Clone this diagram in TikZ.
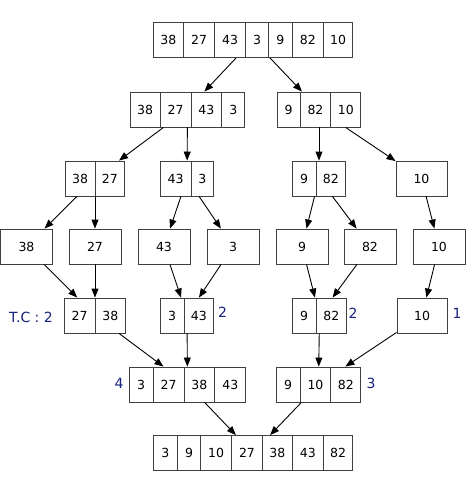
\documentclass[tikz,border=0pt]{standalone}
\usepackage{fontspec}
\setmainfont{DejaVu Sans}
\usetikzlibrary{shapes.multipart,arrows.meta}
\newcommand\cel[2]{\makebox[#1pt]{\rule[-13pt]{0pt}{35pt}#2}}
\definecolor{pen}{RGB}{22,32,125}
\tikzset{
  rec/.style={draw=black!75, line width=0.9pt, rectangle split, rectangle split horizontal,
    inner xsep=0pt, inner ysep=0pt, anchor=center, font=\fontsize{12.5}{14}\selectfont},
  sbox/.style={draw=black!75, line width=0.9pt, minimum width=52pt, minimum height=35pt,
    inner sep=0pt, anchor=center, font=\fontsize{12.5}{14}\selectfont},
  arr/.style={line width=0.9pt, -{Triangle[length=9pt,width=7pt]}},
  hand/.style={text=pen, font=\fontsize{14}{15}\selectfont, inner sep=0pt}
}
\begin{document}
\begin{tikzpicture}[x=1pt,y=-1pt]
\useasboundingbox (0,0) rectangle (469,488);
% row 1
\node[rec, rectangle split parts=7] (r1) at (253,40) {\cel{30}{38}\nodepart{two}\cel{30}{27}\nodepart{three}\cel{30}{43}\nodepart{four}\cel{22}{3}\nodepart{five}\cel{23}{9}\nodepart{six}\cel{30}{82}\nodepart{seven}\cel{29}{10}};
% row 2
\node[rec, rectangle split parts=4] (r2a) at (187.5,109.5) {\cel{29}{38}\nodepart{two}\cel{30}{27}\nodepart{three}\cel{30}{43}\nodepart{four}\cel{22}{3}};
\node[rec, rectangle split parts=3] (r2b) at (319,109.5) {\cel{23}{9}\nodepart{two}\cel{29}{82}\nodepart{three}\cel{30}{10}};
% row 3
\node[rec, rectangle split parts=2] (r3a) at (95,178.5) {\cel{29}{38}\nodepart{two}\cel{29}{27}};
\node[rec, rectangle split parts=2] (r3b) at (187,178.5) {\cel{30}{43}\nodepart{two}\cel{22}{3}};
\node[rec, rectangle split parts=2] (r3c) at (319,178.5) {\cel{23}{9}\nodepart{two}\cel{29}{82}};
\node[sbox, minimum width=51pt] (r3d) at (421.5,178.5) {10};
% row 4
\node[sbox] (r4a) at (26.5,246.5) {38};
\node[sbox] (r4b) at (95,246.5) {27};
\node[sbox] (r4c) at (164,246.5) {43};
\node[sbox] (r4d) at (233,246.5) {3};
\node[sbox] (r4e) at (302,246.5) {9};
\node[sbox] (r4f) at (370,246.5) {82};
\node[sbox] (r4g) at (439,246.5) {10};
% row 5
\node[rec, rectangle split parts=2] (r5a) at (95,315.5) {\cel{30}{27}\nodepart{two}\cel{30}{38}};
\node[rec, rectangle split parts=2] (r5b) at (187,315.5) {\cel{23}{3}\nodepart{two}\cel{29}{43}};
\node[rec, rectangle split parts=2] (r5c) at (319.5,315.5) {\cel{23}{9}\nodepart{two}\cel{30}{82}};
\node[sbox, minimum width=50pt] (r5d) at (422,315.5) {10};
% row 6
\node[rec, rectangle split parts=4] (r6a) at (187.5,384.5) {\cel{23}{3}\nodepart{two}\cel{30}{27}\nodepart{three}\cel{30}{38}\nodepart{four}\cel{30}{43}};
\node[rec, rectangle split parts=3] (r6b) at (318.5,384.5) {\cel{24}{9}\nodepart{two}\cel{29}{10}\nodepart{three}\cel{30}{82}};
% row 7
\node[rec, rectangle split parts=7] (r7) at (253,453) {\cel{24}{3}\nodepart{two}\cel{22}{9}\nodepart{three}\cel{30}{10}\nodepart{four}\cel{30}{27}\nodepart{five}\cel{29}{38}\nodepart{six}\cel{30}{43}\nodepart{seven}\cel{29}{82}};
% edges
\draw[arr] (r1) -- (r2a);
\draw[arr] (r1) -- (r2b);
\draw[arr] (r2a) -- (r3a);
\draw[arr] (r2a) -- (r3b);
\draw[arr] (r2b) -- (r3c);
\draw[arr] (r2b) -- (r3d);
\draw[arr] (r3a) -- (r4a);
\draw[arr] (r3a) -- (r4b);
\draw[arr] (r3b) -- (r4c);
\draw[arr] (r3b) -- (r4d);
\draw[arr] (r3c) -- (r4e);
\draw[arr] (r3c) -- (r4f);
\draw[arr] (r3d) -- (r4g);
\draw[arr] (r4a) -- (r5a);
\draw[arr] (r4b) -- (r5a);
\draw[arr] (r4c) -- (r5b);
\draw[arr] (r4d) -- (r5b);
\draw[arr] (r4e) -- (r5c);
\draw[arr] (r4f) -- (r5c);
\draw[arr] (r4g) -- (r5d);
\draw[arr] (r5a) -- (r6a);
\draw[arr] (r5b) -- (r6a);
\draw[arr] (r5c) -- (r6b);
\draw[arr] (r5d) -- (r6b);
\draw[arr] (r6a) -- (r7);
\draw[arr] (r6b) -- (r7);
% handwritten annotations
\node[hand] (n1) at (31,317) {T.C : 2};
\node[hand] (n2) at (222.5,312) {2};
\node[hand] (n3) at (353,313) {2};
\node[hand] (n4) at (457,313) {1};
\node[hand] (n5) at (119,383) {4};
\node[hand] (n6) at (371,383) {3};
\end{tikzpicture}
\end{document}
